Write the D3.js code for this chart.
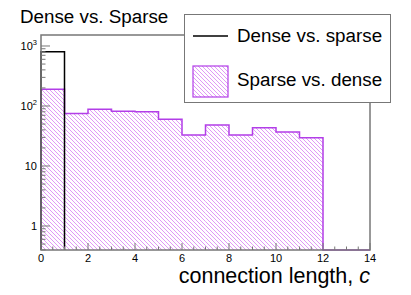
<!DOCTYPE html>
<html>
<head>
<meta charset="utf-8">
<script src="https://cdn.jsdelivr.net/npm/d3@7"></script>
<style>
  body { margin: 0; background: #fff; }
  svg { display: block; font-family: "Liberation Sans", Arial, sans-serif; }
</style>
</head>
<body>
<div id="chart"></div>
<script>
// bins of connection length c (lower edges, width 1)
const binStarts = [0, 1, 2, 3, 4, 5, 6, 7, 8, 9, 10, 11, 12, 13];
const denseVsSparse = [800, 0, 0, 0, 0, 0, 0, 0, 0, 0, 0, 0, 0, 0];
const sparseVsDense = [190, 75, 88, 82, 80, 60, 33, 48, 33, 43.5, 37, 29.6, 0, 0];
const xTicks = [0, 2, 4, 6, 8, 10, 12, 14];
const yDecades = [1, 10, 100, 1000];
const yDecadeLabels = [["1", ""], ["10", ""], ["10", "2"], ["10", "3"]];

const width = 411, height = 295;
const frame = { left: 41, right: 370, top: 35, bottom: 250 };

const svg = d3.select('#chart').append('svg')
    .attr('width', width)
    .attr('height', height);

// scales
const x = d3.scaleLinear().domain([0, 14]).range([frame.left, frame.right]);
const y = d3.scaleLog().domain([0.398, 1525]).range([frame.bottom, frame.top]);
const yv = v => v > 0 ? y(v) : frame.bottom;

// hatch pattern (ROOT style 3004)
const defs = svg.append('defs');
const pat = defs.append('pattern')
    .attr('id', 'hatch')
    .attr('patternUnits', 'userSpaceOnUse')
    .attr('width', 4).attr('height', 4);
pat.append('path')
    .attr('d', 'M-1,-1 L5,5 M-1,3 L1,5 M3,-1 L5,1')
    .attr('stroke', '#dc8ef5')
    .attr('stroke-width', 0.9);

// step outline of a histogram (stops after the last non-empty bin if trim)
function stepPath(values, trim) {
    let n = values.length;
    if (trim) while (n > 0 && values[n - 1] <= 0) n--;
    let pts = [[x(binStarts[0]), frame.bottom]];
    for (let i = 0; i < n; i++) {
        pts.push([x(binStarts[i]), yv(values[i])]);
        pts.push([x(binStarts[i] + 1), yv(values[i])]);
    }
    pts.push([x(binStarts[n - 1] + 1), frame.bottom]);
    return d3.line()(pts);
}

// sparse vs dense: hatched bars
svg.append('g')
    .selectAll('rect')
    .data(sparseVsDense)
    .enter()
    .append('rect')
    .attr('x', (d, i) => x(binStarts[i]))
    .attr('width', (d, i) => x(binStarts[i] + 1) - x(binStarts[i]))
    .attr('y', d => yv(d))
    .attr('height', d => frame.bottom - yv(d))
    .attr('fill', 'url(#hatch)');

svg.append('path')
    .attr('d', stepPath(sparseVsDense, false))
    .attr('fill', 'none')
    .attr('stroke', '#b23ee8')
    .attr('stroke-width', 1.5);

// dense vs sparse: black line
svg.append('path')
    .attr('d', stepPath(denseVsSparse, true))
    .attr('fill', 'none')
    .attr('stroke', '#000')
    .attr('stroke-width', 1.5);

// frame
svg.append('rect')
    .attr('x', frame.left).attr('y', frame.top)
    .attr('width', frame.right - frame.left)
    .attr('height', frame.bottom - frame.top)
    .attr('fill', 'none')
    .attr('stroke', '#777')
    .attr('stroke-width', 1.5);

// x ticks (inward), major every 2, minor every 0.5
const axisCol = '#777';
const xg = svg.append('g');
const xMinor = d3.range(0, 14.01, 0.5).filter(v => v % 2 !== 0);
xg.selectAll('line.minor').data(xMinor).enter().append('line')
    .attr('x1', d => x(d)).attr('x2', d => x(d))
    .attr('y1', frame.bottom).attr('y2', frame.bottom - 3.5)
    .attr('stroke', axisCol);
xg.selectAll('line.major').data(xTicks).enter().append('line')
    .attr('x1', d => x(d)).attr('x2', d => x(d))
    .attr('y1', frame.bottom).attr('y2', frame.bottom - 7)
    .attr('stroke', axisCol);
xg.selectAll('text').data(xTicks).enter().append('text')
    .attr('x', d => x(d))
    .attr('y', 262)
    .attr('text-anchor', 'middle')
    .attr('font-size', 11)
    .text(d => d);

// y ticks (inward), log
const yg = svg.append('g');
const yMinor = [];
[0.1, 1, 10, 100, 1000].forEach(dec => {
    for (let k = 2; k <= 9; k++) {
        const v = dec * k;
        if (v >= 0.398 && v <= 1525) yMinor.push(v);
    }
});
yg.selectAll('line.minor').data(yMinor).enter().append('line')
    .attr('x1', frame.left).attr('x2', frame.left + 4.5)
    .attr('y1', d => y(d)).attr('y2', d => y(d))
    .attr('stroke', axisCol);
yg.selectAll('line.major').data(yDecades).enter().append('line')
    .attr('x1', frame.left).attr('x2', frame.left + 9)
    .attr('y1', d => y(d)).attr('y2', d => y(d))
    .attr('stroke', axisCol);
const yl = yg.selectAll('text').data(yDecades).enter().append('text')
    .attr('x', 37)
    .attr('y', d => y(d) + 4)
    .attr('text-anchor', 'end')
    .attr('font-size', 11);
yl.append('tspan').text((d, i) => yDecadeLabels[i][0]);
yl.append('tspan')
    .attr('dy', -5)
    .attr('font-size', 7.5)
    .text((d, i) => yDecadeLabels[i][1]);

// title
svg.append('text')
    .attr('x', 20).attr('y', 23)
    .attr('font-size', 18.8)
    .text('Dense vs. Sparse');

// x axis title
const xt = svg.append('text')
    .attr('x', 370).attr('y', 283)
    .attr('text-anchor', 'end')
    .attr('font-size', 21.5);
xt.append('tspan').text('connection length, ');
xt.append('tspan').attr('font-style', 'italic').text('c');

// legend
const lg = svg.append('g');
lg.append('rect')
    .attr('x', 184.5).attr('y', 14.5)
    .attr('width', 206).attr('height', 88)
    .attr('fill', '#fff')
    .attr('stroke', '#777')
    .attr('stroke-width', 1);
lg.append('line')
    .attr('x1', 193).attr('x2', 228)
    .attr('y1', 36).attr('y2', 36)
    .attr('stroke', '#000').attr('stroke-width', 1.5);
lg.append('rect')
    .attr('x', 193).attr('y', 66)
    .attr('width', 35).attr('height', 31)
    .attr('fill', 'url(#hatch)')
    .attr('stroke', '#b23ee8').attr('stroke-width', 1.2);
lg.append('text')
    .attr('x', 237).attr('y', 42)
    .attr('font-size', 18.8)
    .text('Dense vs. sparse');
lg.append('text')
    .attr('x', 237).attr('y', 86)
    .attr('font-size', 18.8)
    .text('Sparse vs. dense');
</script>
</body>
</html>
